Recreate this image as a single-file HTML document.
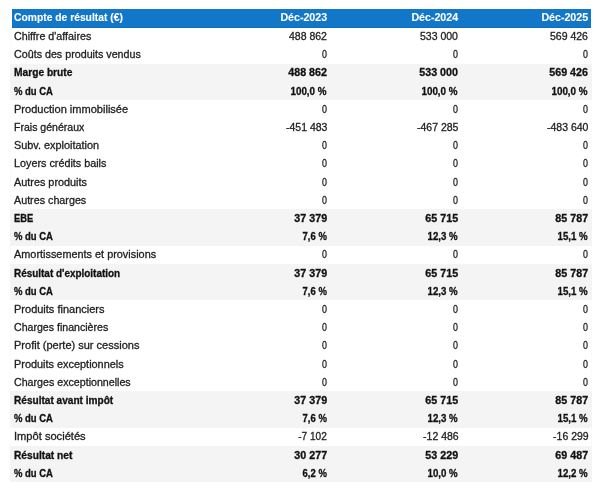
<!DOCTYPE html>
<html><head><meta charset="utf-8"><style>
html,body{margin:0;padding:0;background:#fff;width:600px;height:492px;overflow:hidden;position:relative}
#w{position:absolute;left:0;top:0;width:600px;height:492px;will-change:transform}
body{font-family:"Liberation Sans",sans-serif;color:#1e1e1e}
.b{position:absolute;left:10px;width:582px;background:#f4f4f4}
.v{position:absolute;top:27px;height:456px;width:1px;background:#fbfbfb}
.hd{position:absolute;left:12px;top:9px;width:579px;height:18px;background:#1277c9;border-bottom:1px solid #0f6cb8}
.t{position:absolute;white-space:pre;line-height:18px;height:18px;font-size:10.5px;-webkit-text-stroke:0.3px #1e1e1e}
.bo{font-weight:bold;color:#111;font-size:10.5px;-webkit-text-stroke:0.3px #111}
.t.h{color:#fff;-webkit-text-stroke:0.1px #fff}
.t span{display:inline-block}
.l span{transform-origin:0 50%}
.r span{transform-origin:100% 50%}
</style></head><body><div id="w">

<div class="v" style="left:10px"></div>
<div class="v" style="left:591px"></div>
<div class="b" style="top:63.800px;height:36.400px"></div>
<div class="b" style="top:209.400px;height:36.400px"></div>
<div class="b" style="top:264.000px;height:36.400px"></div>
<div class="b" style="top:391.400px;height:36.400px"></div>
<div class="b" style="top:446.000px;height:36.400px"></div>
<div class="hd"></div>
<div class="t bo l h" style="left:14.10px;top:8px"><span style="transform:scaleX(0.9818)">Compte de résultat (€)</span></div>
<div class="t bo r h" style="right:272.47px;top:8px"><span style="transform:scaleX(1.0130)">Déc-2023</span></div>
<div class="t bo r h" style="right:141.77px;top:8px"><span style="transform:scaleX(1.0130)">Déc-2024</span></div>
<div class="t bo r h" style="right:11.87px;top:8px"><span style="transform:scaleX(1.0130)">Déc-2025</span></div>
<div class="t l" style="left:14.10px;top:27px"><span style="transform:scaleX(1.0211)">Chiffre d&#x27;affaires</span></div>
<div class="t r" style="right:272.63px;top:27px"><span style="transform:scaleX(1.0016)">488 862</span></div>
<div class="t r" style="right:141.93px;top:27px"><span style="transform:scaleX(1.0016)">533 000</span></div>
<div class="t r" style="right:12.03px;top:27px"><span style="transform:scaleX(1.0016)">569 426</span></div>
<div class="t l" style="left:14.10px;top:45px"><span style="transform:scaleX(1.0202)">Coûts des produits vendus</span></div>
<div class="t r" style="right:272.73px;top:45px"><span style="transform:scaleX(0.8440)">0</span></div>
<div class="t r" style="right:142.03px;top:45px"><span style="transform:scaleX(0.8440)">0</span></div>
<div class="t r" style="right:12.13px;top:45px"><span style="transform:scaleX(0.8440)">0</span></div>
<div class="t bo l" style="left:14.10px;top:63px"><span style="transform:scaleX(0.9717)">Marge brute</span></div>
<div class="t bo r" style="right:272.63px;top:63px"><span style="transform:scaleX(1.0200)">488 862</span></div>
<div class="t bo r" style="right:141.93px;top:63px"><span style="transform:scaleX(1.0200)">533 000</span></div>
<div class="t bo r" style="right:12.03px;top:63px"><span style="transform:scaleX(1.0200)">569 426</span></div>
<div class="t bo l" style="left:14.10px;top:82px"><span style="transform:scaleX(0.9023)">% du CA</span></div>
<div class="t bo r" style="right:273.04px;top:82px"><span style="transform:scaleX(0.9365)">100,0 %</span></div>
<div class="t bo r" style="right:142.34px;top:82px"><span style="transform:scaleX(0.9365)">100,0 %</span></div>
<div class="t bo r" style="right:12.44px;top:82px"><span style="transform:scaleX(0.9365)">100,0 %</span></div>
<div class="t l" style="left:14.10px;top:100px"><span style="transform:scaleX(1.0514)">Production immobilisée</span></div>
<div class="t r" style="right:272.73px;top:100px"><span style="transform:scaleX(0.8440)">0</span></div>
<div class="t r" style="right:142.03px;top:100px"><span style="transform:scaleX(0.8440)">0</span></div>
<div class="t r" style="right:12.13px;top:100px"><span style="transform:scaleX(0.8440)">0</span></div>
<div class="t l" style="left:14.10px;top:118px"><span style="transform:scaleX(1.0043)">Frais généraux</span></div>
<div class="t r" style="right:272.15px;top:118px"><span style="transform:scaleX(0.9994)">-451 483</span></div>
<div class="t r" style="right:141.45px;top:118px"><span style="transform:scaleX(0.9994)">-467 285</span></div>
<div class="t r" style="right:11.55px;top:118px"><span style="transform:scaleX(0.9994)">-483 640</span></div>
<div class="t l" style="left:14.10px;top:136px"><span style="transform:scaleX(1.0370)">Subv. exploitation</span></div>
<div class="t r" style="right:272.73px;top:136px"><span style="transform:scaleX(0.8440)">0</span></div>
<div class="t r" style="right:142.03px;top:136px"><span style="transform:scaleX(0.8440)">0</span></div>
<div class="t r" style="right:12.13px;top:136px"><span style="transform:scaleX(0.8440)">0</span></div>
<div class="t l" style="left:14.10px;top:154px"><span style="transform:scaleX(1.0281)">Loyers crédits bails</span></div>
<div class="t r" style="right:272.73px;top:154px"><span style="transform:scaleX(0.8440)">0</span></div>
<div class="t r" style="right:142.03px;top:154px"><span style="transform:scaleX(0.8440)">0</span></div>
<div class="t r" style="right:12.13px;top:154px"><span style="transform:scaleX(0.8440)">0</span></div>
<div class="t l" style="left:14.10px;top:173px"><span style="transform:scaleX(1.0329)">Autres produits</span></div>
<div class="t r" style="right:272.73px;top:173px"><span style="transform:scaleX(0.8440)">0</span></div>
<div class="t r" style="right:142.03px;top:173px"><span style="transform:scaleX(0.8440)">0</span></div>
<div class="t r" style="right:12.13px;top:173px"><span style="transform:scaleX(0.8440)">0</span></div>
<div class="t l" style="left:14.10px;top:191px"><span style="transform:scaleX(1.0229)">Autres charges</span></div>
<div class="t r" style="right:272.73px;top:191px"><span style="transform:scaleX(0.8440)">0</span></div>
<div class="t r" style="right:142.03px;top:191px"><span style="transform:scaleX(0.8440)">0</span></div>
<div class="t r" style="right:12.13px;top:191px"><span style="transform:scaleX(0.8440)">0</span></div>
<div class="t bo l" style="left:14.10px;top:209px"><span style="transform:scaleX(0.8857)">EBE</span></div>
<div class="t bo r" style="right:272.47px;top:209px"><span style="transform:scaleX(1.0217)">37 379</span></div>
<div class="t bo r" style="right:141.77px;top:209px"><span style="transform:scaleX(1.0217)">65 715</span></div>
<div class="t bo r" style="right:11.87px;top:209px"><span style="transform:scaleX(1.0217)">85 787</span></div>
<div class="t bo l" style="left:14.10px;top:227px"><span style="transform:scaleX(0.9023)">% du CA</span></div>
<div class="t bo r" style="right:272.73px;top:227px"><span style="transform:scaleX(0.9035)">7,6 %</span></div>
<div class="t bo r" style="right:142.17px;top:227px"><span style="transform:scaleX(0.9230)">12,3 %</span></div>
<div class="t bo r" style="right:12.27px;top:227px"><span style="transform:scaleX(0.9230)">15,1 %</span></div>
<div class="t l" style="left:14.10px;top:245px"><span style="transform:scaleX(1.0365)">Amortissements et provisions</span></div>
<div class="t r" style="right:272.73px;top:245px"><span style="transform:scaleX(0.8440)">0</span></div>
<div class="t r" style="right:142.03px;top:245px"><span style="transform:scaleX(0.8440)">0</span></div>
<div class="t r" style="right:12.13px;top:245px"><span style="transform:scaleX(0.8440)">0</span></div>
<div class="t bo l" style="left:14.10px;top:264px"><span style="transform:scaleX(0.9464)">Résultat d&#x27;exploitation</span></div>
<div class="t bo r" style="right:272.47px;top:264px"><span style="transform:scaleX(1.0217)">37 379</span></div>
<div class="t bo r" style="right:141.77px;top:264px"><span style="transform:scaleX(1.0217)">65 715</span></div>
<div class="t bo r" style="right:11.87px;top:264px"><span style="transform:scaleX(1.0217)">85 787</span></div>
<div class="t bo l" style="left:14.10px;top:282px"><span style="transform:scaleX(0.9023)">% du CA</span></div>
<div class="t bo r" style="right:272.73px;top:282px"><span style="transform:scaleX(0.9035)">7,6 %</span></div>
<div class="t bo r" style="right:142.17px;top:282px"><span style="transform:scaleX(0.9230)">12,3 %</span></div>
<div class="t bo r" style="right:12.27px;top:282px"><span style="transform:scaleX(0.9230)">15,1 %</span></div>
<div class="t l" style="left:14.10px;top:300px"><span style="transform:scaleX(1.0482)">Produits financiers</span></div>
<div class="t r" style="right:272.73px;top:300px"><span style="transform:scaleX(0.8440)">0</span></div>
<div class="t r" style="right:142.03px;top:300px"><span style="transform:scaleX(0.8440)">0</span></div>
<div class="t r" style="right:12.13px;top:300px"><span style="transform:scaleX(0.8440)">0</span></div>
<div class="t l" style="left:14.10px;top:318px"><span style="transform:scaleX(1.0086)">Charges financières</span></div>
<div class="t r" style="right:272.73px;top:318px"><span style="transform:scaleX(0.8440)">0</span></div>
<div class="t r" style="right:142.03px;top:318px"><span style="transform:scaleX(0.8440)">0</span></div>
<div class="t r" style="right:12.13px;top:318px"><span style="transform:scaleX(0.8440)">0</span></div>
<div class="t l" style="left:14.10px;top:336px"><span style="transform:scaleX(1.0483)">Profit (perte) sur cessions</span></div>
<div class="t r" style="right:272.73px;top:336px"><span style="transform:scaleX(0.8440)">0</span></div>
<div class="t r" style="right:142.03px;top:336px"><span style="transform:scaleX(0.8440)">0</span></div>
<div class="t r" style="right:12.13px;top:336px"><span style="transform:scaleX(0.8440)">0</span></div>
<div class="t l" style="left:14.10px;top:355px"><span style="transform:scaleX(1.0381)">Produits exceptionnels</span></div>
<div class="t r" style="right:272.73px;top:355px"><span style="transform:scaleX(0.8440)">0</span></div>
<div class="t r" style="right:142.03px;top:355px"><span style="transform:scaleX(0.8440)">0</span></div>
<div class="t r" style="right:12.13px;top:355px"><span style="transform:scaleX(0.8440)">0</span></div>
<div class="t l" style="left:14.10px;top:373px"><span style="transform:scaleX(1.0148)">Charges exceptionnelles</span></div>
<div class="t r" style="right:272.73px;top:373px"><span style="transform:scaleX(0.8440)">0</span></div>
<div class="t r" style="right:142.03px;top:373px"><span style="transform:scaleX(0.8440)">0</span></div>
<div class="t r" style="right:12.13px;top:373px"><span style="transform:scaleX(0.8440)">0</span></div>
<div class="t bo l" style="left:14.10px;top:391px"><span style="transform:scaleX(0.9602)">Résultat avant impôt</span></div>
<div class="t bo r" style="right:272.47px;top:391px"><span style="transform:scaleX(1.0217)">37 379</span></div>
<div class="t bo r" style="right:141.77px;top:391px"><span style="transform:scaleX(1.0217)">65 715</span></div>
<div class="t bo r" style="right:11.87px;top:391px"><span style="transform:scaleX(1.0217)">85 787</span></div>
<div class="t bo l" style="left:14.10px;top:409px"><span style="transform:scaleX(0.9023)">% du CA</span></div>
<div class="t bo r" style="right:272.73px;top:409px"><span style="transform:scaleX(0.9035)">7,6 %</span></div>
<div class="t bo r" style="right:142.17px;top:409px"><span style="transform:scaleX(0.9230)">12,3 %</span></div>
<div class="t bo r" style="right:12.27px;top:409px"><span style="transform:scaleX(0.9230)">15,1 %</span></div>
<div class="t l" style="left:14.10px;top:427px"><span style="transform:scaleX(1.0582)">Impôt sociétés</span></div>
<div class="t r" style="right:272.81px;top:427px"><span style="transform:scaleX(0.9616)">-7 102</span></div>
<div class="t r" style="right:141.28px;top:427px"><span style="transform:scaleX(0.9975)">-12 486</span></div>
<div class="t r" style="right:11.38px;top:427px"><span style="transform:scaleX(0.9975)">-16 299</span></div>
<div class="t bo l" style="left:14.10px;top:446px"><span style="transform:scaleX(0.9717)">Résultat net</span></div>
<div class="t bo r" style="right:272.47px;top:446px"><span style="transform:scaleX(1.0217)">30 277</span></div>
<div class="t bo r" style="right:141.77px;top:446px"><span style="transform:scaleX(1.0217)">53 229</span></div>
<div class="t bo r" style="right:11.87px;top:446px"><span style="transform:scaleX(1.0217)">69 487</span></div>
<div class="t bo l" style="left:14.10px;top:464px"><span style="transform:scaleX(0.9023)">% du CA</span></div>
<div class="t bo r" style="right:272.73px;top:464px"><span style="transform:scaleX(0.9035)">6,2 %</span></div>
<div class="t bo r" style="right:142.17px;top:464px"><span style="transform:scaleX(0.9230)">10,0 %</span></div>
<div class="t bo r" style="right:12.27px;top:464px"><span style="transform:scaleX(0.9230)">12,2 %</span></div>
</div></body></html>
